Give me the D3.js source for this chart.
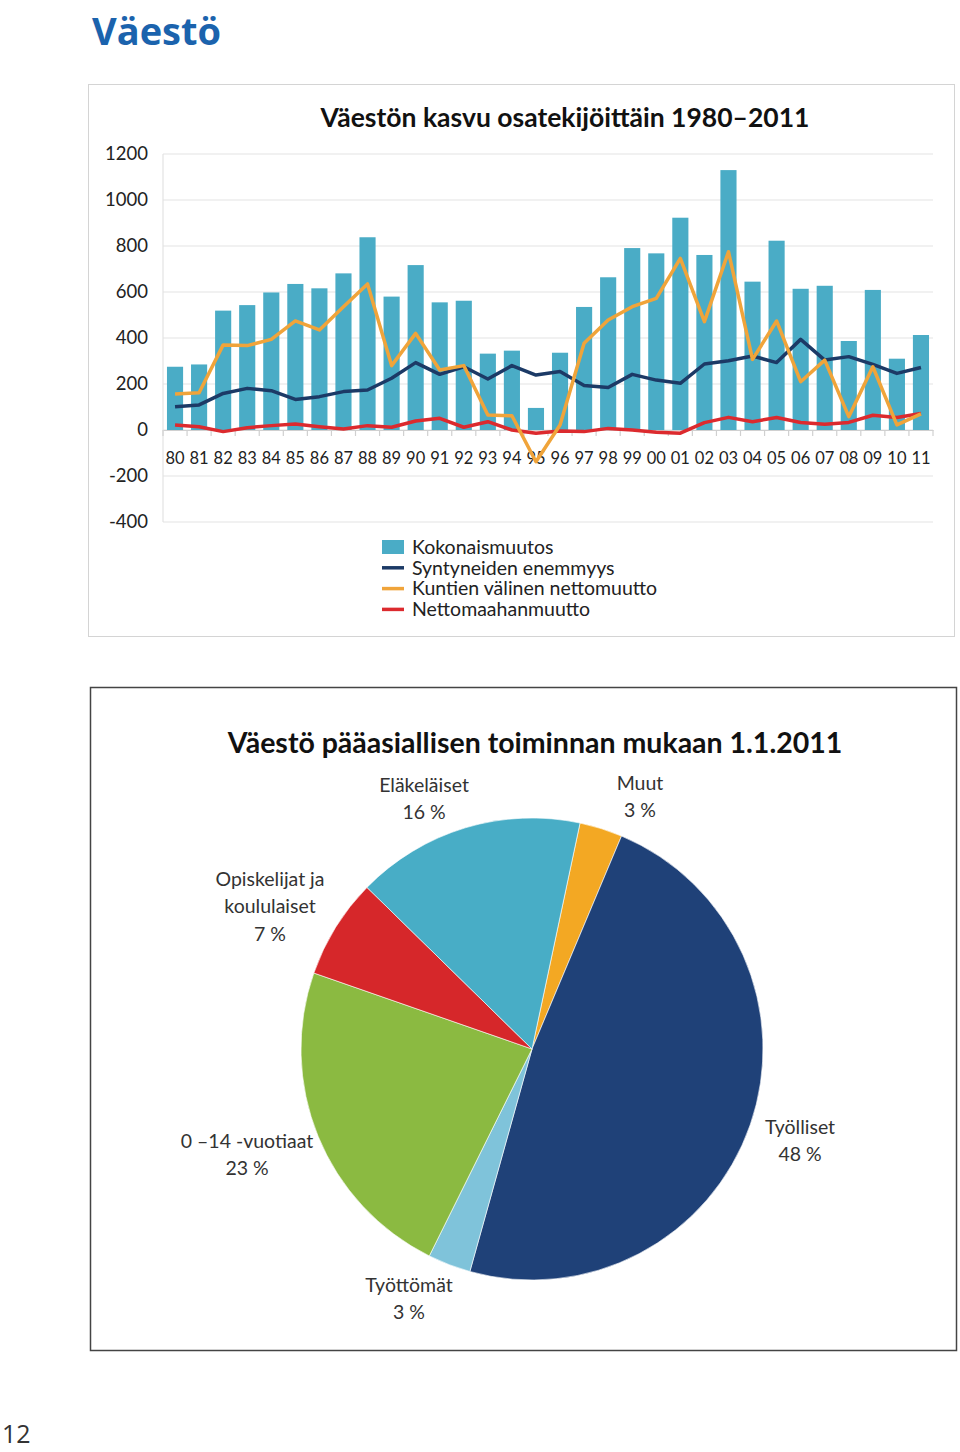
<!DOCTYPE html>
<html><head><meta charset="utf-8">
<script src="https://cdn.jsdelivr.net/npm/d3@7"></script>
<style>
html,body{margin:0;padding:0;background:#fff;}
svg{display:block;}
</style></head>
<body>
<svg id="c" width="960" height="1452"></svg>
<script>
const years = ["80","81","82","83","84","85","86","87","88","89","90","91","92","93","94","95","96","97","98","99","00","01","02","03","04","05","06","07","08","09","10","11"];
const kokonaismuutos = [275,285,519,543,598,635,616,681,838,580,717,555,562,332,345,96,336,535,664,791,768,923,761,1130,645,823,614,627,387,609,310,413];
const syntyneidenEnemmyys = [101,109,159,181,171,133,145,167,174,225,293,242,275,222,280,239,254,193,185,242,217,203,287,301,322,293,394,304,319,285,246,272];
const kuntienValinen = [157,162,370,367,394,474,435,536,635,280,420,261,280,65,62,-138,22,377,478,536,572,746,471,775,307,474,210,304,58,275,22,70];
const nettomaahanmuutto = [22,14,-7,10,19,26,14,4,19,12,39,51,12,36,0,-14,-4,-7,7,0,-10,-14,32,55,36,54,33,25,33,64,54,72];
const yTicks = [-400,-200,0,200,400,600,800,1000,1200];
const legendNames = ["Kokonaismuutos","Syntyneiden enemmyys","Kuntien välinen nettomuutto","Nettomaahanmuutto"];

const pieLabels = [["Muut"],["Työlliset"],["Työttömät"],["0 –14 -vuotiaat"],["Opiskelijat ja","koululaiset"],["Eläkeläiset"]];
const pieValues = [3,48,3,23,7,16];

const svg = d3.select("#c");
const FONT = "Lato, 'Open Sans', sans-serif";

// page title
svg.append("text").attr("x",92).attr("y",45).text("Väestö")
  .attr("font-family","'Open Sans', sans-serif").attr("font-weight",700)
  .attr("font-size",38).attr("fill","#1b63ad");

// ---- Chart 1 ----
svg.append("rect").attr("x",88.5).attr("y",84.5).attr("width",866).attr("height",552)
  .attr("fill","#fff").attr("stroke","#d4d4d4");
svg.append("text").attr("x",565).attr("y",127).attr("text-anchor","middle")
  .attr("font-family",FONT).attr("font-weight",700).attr("font-size",26.5).attr("fill","#111")
  .text("Väestön kasvu osatekijöittäin 1980–2011");

const x = d3.scaleBand().domain(years).range([163,933]).paddingInner(0.33).paddingOuter(0.165);
const y = d3.scaleLinear().domain([-400,1200]).range([522,154]);

const g = svg.append("g");
// gridlines
g.selectAll("line.grid").data(yTicks).enter().append("line")
  .attr("x1",163).attr("x2",933).attr("y1",d=>y(d)).attr("y2",d=>y(d))
  .attr("stroke","#e3e3e3").attr("stroke-width",1.2);
g.append("line").attr("x1",163).attr("x2",163).attr("y1",y(1200)).attr("y2",y(-400))
  .attr("stroke","#e3e3e3").attr("stroke-width",1.2);

// y axis labels
const yAxis = d3.axisLeft(y).tickValues(yTicks).tickSize(0).tickPadding(15).tickFormat(d=>String(d));
const ya = svg.append("g").attr("transform","translate(163,0)").call(yAxis);
ya.select(".domain").remove();
ya.selectAll("text").attr("font-family",FONT).attr("font-size",18.5).attr("fill","#222");

// bars
g.selectAll("rect.bar").data(kokonaismuutos).enter().append("rect")
  .attr("x",(d,i)=>x(years[i])).attr("width",x.bandwidth())
  .attr("y",d=>y(Math.max(0,d))).attr("height",d=>Math.abs(y(d)-y(0)))
  .attr("fill","#4aacc6");

// x axis at zero
const xAxis = d3.axisBottom(x).tickSize(0).tickPadding(22);
const xa = svg.append("g").attr("transform",`translate(0,${y(0)})`).call(xAxis);
xa.select(".domain").attr("stroke","#d0d0d0").attr("stroke-width",1.2);
xa.selectAll("text").attr("font-family",FONT).attr("font-size",16.5).attr("fill","#222");
// boundary tick marks
const bounds = d3.range(years.length+1).map(i=>163+i*(770/years.length));
svg.append("g").selectAll("line").data(bounds).enter().append("line")
  .attr("x1",d=>d).attr("x2",d=>d).attr("y1",y(0)).attr("y2",y(0)+6)
  .attr("stroke","#d0d0d0").attr("stroke-width",1.2);

const lineGen = d3.line().x((d,i)=>x(years[i])+x.bandwidth()/2).y(d=>y(d));
const series = [
  {data:nettomaahanmuutto,color:"#dc2a2e"},
  {data:syntyneidenEnemmyys,color:"#1c3a66"},
  {data:kuntienValinen,color:"#f0a43a"}
];
series.forEach(s=>{
  svg.append("path").datum(s.data).attr("d",lineGen).attr("fill","none")
    .attr("stroke",s.color).attr("stroke-width",3.5).attr("stroke-linejoin","round");
});

// legend
const leg = svg.append("g");
const legColors = ["#4aacc6","#1c3a66","#f0a43a","#dc2a2e"];
legendNames.forEach((n,i)=>{
  const cy = 547 + i*20.8;
  if(i===0){
    leg.append("rect").attr("x",382).attr("y",cy-7).attr("width",22).attr("height",14).attr("fill",legColors[i]);
  } else {
    leg.append("line").attr("x1",382).attr("x2",404).attr("y1",cy).attr("y2",cy)
      .attr("stroke",legColors[i]).attr("stroke-width",3.5);
  }
  leg.append("text").attr("x",412).attr("y",cy).attr("dy","0.35em").text(n)
    .attr("font-family",FONT).attr("font-size",19.5).attr("fill","#222");
});

// ---- Chart 2 ----
svg.append("rect").attr("x",90.5).attr("y",687.5).attr("width",866).attr("height",663)
  .attr("fill","#fff").attr("stroke","#444").attr("stroke-width",1.5);
svg.append("text").attr("x",535).attr("y",753).attr("text-anchor","middle")
  .attr("font-family",FONT).attr("font-weight",700).attr("font-size",28.5).attr("fill","#111")
  .text("Väestö pääasiallisen toiminnan mukaan 1.1.2011");

const pieColors = ["#f3a823","#1f4178","#7fc3da","#8bba41","#d6272a","#48adc6"];
const pie = d3.pie().sort(null).value(d=>d).startAngle(12*Math.PI/180).endAngle(12*Math.PI/180+2*Math.PI);
const arc = d3.arc().innerRadius(0).outerRadius(231);
const pg = svg.append("g").attr("transform","translate(532,1049)");
pg.selectAll("path").data(pie(pieValues)).enter().append("path")
  .attr("d",arc).attr("fill",(d,i)=>pieColors[i]).attr("stroke","#fff").attr("stroke-width",0.6);

const labelPos = [[640,783],[800,1127],[409,1285],[247,1141],[270,879],[424,785]];
pieLabels.forEach((lines,i)=>{
  const [lx,ly] = labelPos[i];
  const t = svg.append("text").attr("text-anchor","middle")
    .attr("font-family",FONT).attr("font-size",19.5).attr("fill","#333");
  const all = lines.concat([pieValues[i]+" %"]);
  all.forEach((l,j)=>{
    t.append("tspan").attr("x",lx).attr("y",ly+j*27.5).attr("dy","0.35em").text(l);
  });
});

// page number
svg.append("text").attr("x",2).attr("y",1443).text("12")
  .attr("font-family","'Open Sans', sans-serif").attr("font-size",25).attr("fill","#333");
</script>
</body></html>
